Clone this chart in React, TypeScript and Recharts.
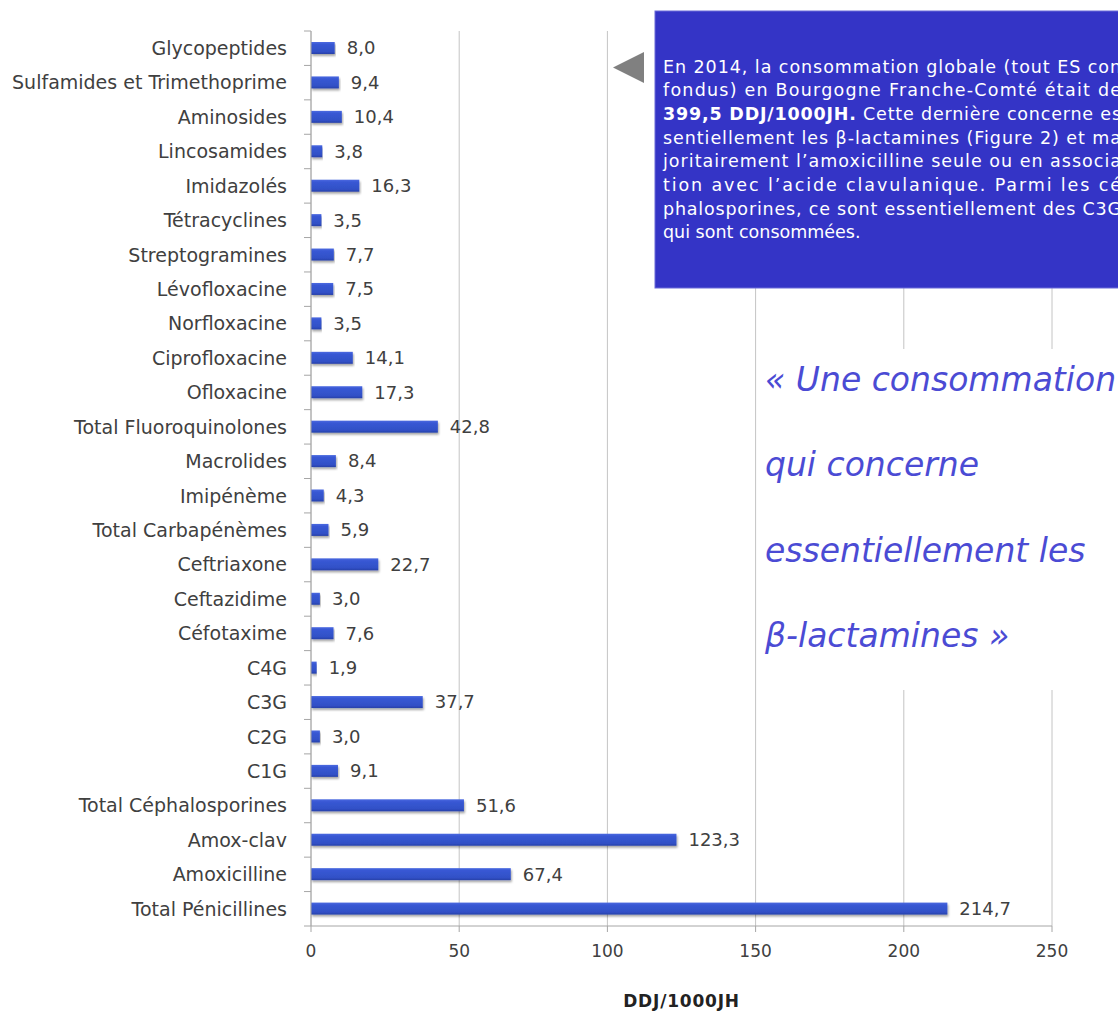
import React from 'react';
import { BarChart, Bar, XAxis, YAxis, CartesianGrid, LabelList } from 'recharts';

const categories = [
  'Glycopeptides',
  'Sulfamides et Trimethoprime',
  'Aminosides',
  'Lincosamides',
  'Imidazolés',
  'Tétracyclines',
  'Streptogramines',
  'Lévofloxacine',
  'Norfloxacine',
  'Ciprofloxacine',
  'Ofloxacine',
  'Total Fluoroquinolones',
  'Macrolides',
  'Imipénème',
  'Total Carbapénèmes',
  'Ceftriaxone',
  'Ceftazidime',
  'Céfotaxime',
  'C4G',
  'C3G',
  'C2G',
  'C1G',
  'Total Céphalosporines',
  'Amox-clav',
  'Amoxicilline',
  'Total Pénicillines',
];

const values = [
  8.0, 9.4, 10.4, 3.8, 16.3, 3.5, 7.7, 7.5, 3.5, 14.1, 17.3, 42.8, 8.4, 4.3, 5.9,
  22.7, 3.0, 7.6, 1.9, 37.7, 3.0, 9.1, 51.6, 123.3, 67.4, 214.7,
];

const xTicks = [0, 50, 100, 150, 200, 250];
const axisTitle = 'DDJ/1000JH';

const boxLines = [
  'En 2014, la consommation globale (tout ES con',
  'fondus) en Bourgogne Franche-Comté était de',
  '',
  'sentiellement les β-lactamines (Figure 2) et ma',
  'joritairement l\u2019amoxicilline seule ou en associa',
  'tion avec l\u2019acide clavulanique. Parmi les cé',
  'phalosporines, ce sont essentiellement des C3G',
  'qui sont consommées.',
];
const boxBold = '399,5 DDJ/1000JH.';
const boxLine3Rest = ' Cette dernière concerne es';

const quoteLines = ['« Une consommation', 'qui concerne', 'essentiellement les', 'β-lactamines »'];

const data = categories.map((name, i) => ({ name, value: values[i] }));

const W = 1118;
const H = 1011;
const MARGIN = { top: 31, right: 66, left: 0, bottom: 0 };
const Y_W = 311;
const X_H = 85;
const BAND = (H - MARGIN.top - MARGIN.bottom - X_H) / categories.length;
const FONT = '"DejaVu Sans", sans-serif';
const TEXT = '#404040';
const AXIS = '#a6a6a6';
const GRID = '#c4c4c4';

function YTick(props: any) {
  const { x, y, payload, index } = props;
  return (
    <g>
      <text x={x - 24} y={y} dy="0.36em" textAnchor="end" fontFamily={FONT} fontSize={19} fill={TEXT}>
        {payload.value}
      </text>
      <line x1={x - 7} x2={x} y1={y - BAND / 2} y2={y - BAND / 2} stroke={AXIS} />
      {index === categories.length - 1 ? (
        <line x1={x - 7} x2={x} y1={y + BAND / 2} y2={y + BAND / 2} stroke={AXIS} />
      ) : null}
    </g>
  );
}

function BarShape(p: any) {
  if (!p.width) return null;
  return (
    <rect x={p.x} y={p.y} width={p.width} height={p.height} fill="url(#barGrad)" filter="url(#barShadow)" />
  );
}

const fmt = (v: any) => Number(v).toFixed(1).replace('.', ',');

export default function App() {
  const boxX = 663;
  const base0 = 72.5;
  const step = 23.7;
  return (
    <div style={{ position: 'absolute', left: 0, top: 0, width: W, height: H, overflow: 'hidden', background: '#fff' }}>
      <BarChart width={W} height={H} data={data} layout="vertical" margin={MARGIN}>
        <defs>
          <linearGradient id="barGrad" x1="0" y1="0" x2="0" y2="1">
            <stop offset="0" stopColor="#4c6ae0" />
            <stop offset="0.2" stopColor="#3858d4" />
            <stop offset="0.8" stopColor="#3150c6" />
            <stop offset="1" stopColor="#2740a8" />
          </linearGradient>
          <filter id="barShadow" x="-5%" y="-50%" width="110%" height="250%">
            <feDropShadow dx="1" dy="2" stdDeviation="1.3" floodColor="#000" floodOpacity="0.35" />
          </filter>
        </defs>
        <CartesianGrid horizontal={false} vertical stroke={GRID} />
        <XAxis
          type="number"
          domain={[0, 250]}
          ticks={xTicks}
          height={X_H}
          stroke={AXIS}
          tickSize={6}
          tickMargin={13}
          tick={{ fill: TEXT, fontSize: 17, fontFamily: FONT }}
          label={{
            value: axisTitle,
            position: 'insideBottom',
            offset: 4,
            fill: '#222',
            fontSize: 17,
            fontWeight: 'bold',
            fontFamily: FONT,
            letterSpacing: 0.8,
          }}
        />
        <YAxis
          type="category"
          dataKey="name"
          width={Y_W}
          stroke={AXIS}
          tickLine={false}
          tickSize={0}
          tickMargin={0}
          interval={0}
          tick={<YTick />}
        />
        <Bar dataKey="value" barSize={12} isAnimationActive={false} shape={<BarShape />}>
          <LabelList dataKey="value" position="right" offset={12} formatter={fmt} fill={TEXT} fontSize={18} fontFamily={FONT} />
        </Bar>
      </BarChart>
      <svg
        width={W}
        height={H}
        style={{ position: 'absolute', left: 0, top: 0, pointerEvents: 'none' }}
      >
        <rect x={759} y={349} width={W - 759} height={341} fill="#fff" />
        <polygon points="613,67.5 644,52 644,83" fill="#808080" />
        <rect x={655} y={11} width={W - 655 + 10} height={277} fill="#3434c6" stroke="#6a6ad8" strokeWidth={1} />
        <g fontFamily={FONT} fontSize={17.5} fill="#fff">
          {boxLines.map((t, i) => {
            if (i === 2) {
              return (
                <text key={i} x={boxX} y={base0 + i * step} textLength={458} lengthAdjust="spacing">
                  <tspan fontWeight="bold">{boxBold}</tspan>
                  {boxLine3Rest}
                </text>
              );
            }
            if (i === boxLines.length - 1) {
              return (
                <text key={i} x={boxX} y={base0 + i * step}>
                  {t}
                </text>
              );
            }
            return (
              <text key={i} x={boxX} y={base0 + i * step} textLength={458} lengthAdjust="spacing">
                {t}
              </text>
            );
          })}
        </g>
        <g fontFamily={FONT} fontSize={33} fontStyle="italic" fill="#4b4bd4">
          {quoteLines.map((t, i) => (
            <text key={i} x={765} y={391 + i * 85.3}>
              {t}
            </text>
          ))}
        </g>
      </svg>
    </div>
  );
}
